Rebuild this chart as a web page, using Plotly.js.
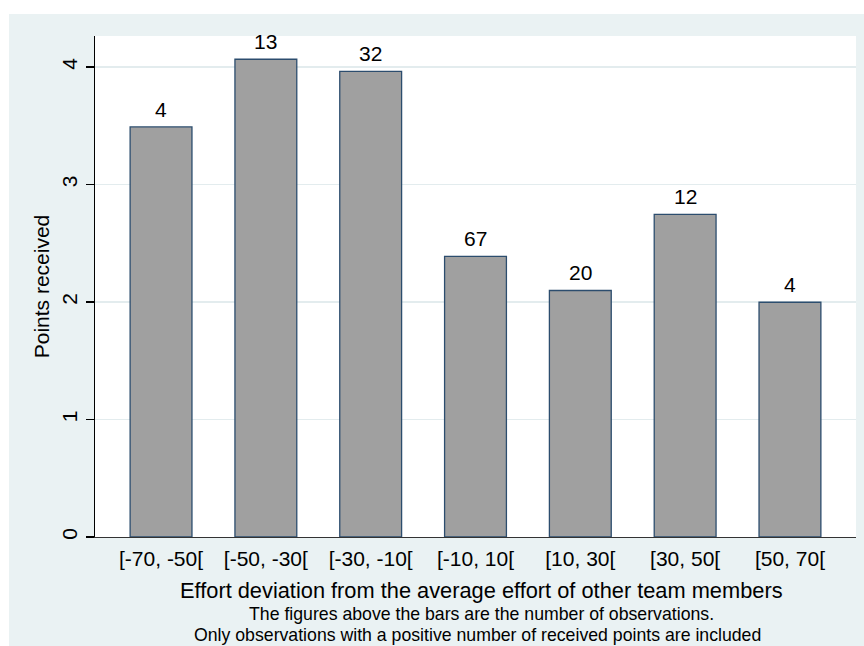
<!DOCTYPE html>
<html>
<head>
<meta charset="utf-8">
<script src="https://cdn.plot.ly/plotly-3.0.1.min.js"></script>
<style>html,body{margin:0;padding:0;background:#fff;}#chart{width:864px;height:646px;}</style>
</head>
<body>
<div id="chart"></div>
<script>
const categories = ["[-70, -50[", "[-50, -30[", "[-30, -10[", "[-10, 10[", "[10, 30[", "[30, 50[", "[50, 70["];
const pointsReceived = [3.49, 4.066, 3.963, 2.388, 2.098, 2.746, 1.998];
const observations = [4, 13, 32, 67, 20, 12, 4];
const yTicks = [0, 1, 2, 3, 4];

const FONT = "Liberation Sans, Arial, sans-serif";

const trace = {
  type: "bar",
  x: categories,
  y: pointsReceived,
  width: 0.59,
  marker: {color: "#A0A0A0", line: {color: "#2C4D6E", width: 1.3}},
  hoverinfo: "skip"
};

const countAnnotations = categories.map((c, i) => ({
  x: c, y: pointsReceived[i], xref: "x", yref: "y",
  text: String(observations[i]), showarrow: false,
  yanchor: "bottom", yshift: 4,
  font: {family: FONT, size: 21, color: "#000"}
}));

const textAnnotations = [
  {text: "Effort deviation from the average effort of other team members", x: 0.5085, y: -0.1058, size: 21.8},
  {text: "The figures above the bars are the number of observations.", x: 0.508, y: -0.1537, size: 17.7},
  {text: "Only observations with a positive number of received points are included", x: 0.503, y: -0.1966, size: 17.7}
].map(a => ({xref: "paper", yref: "paper", showarrow: false, xanchor: "center", yanchor: "middle",
  x: a.x, y: a.y, text: a.text, font: {family: FONT, size: a.size, color: "#000"}}));

const layout = {
  width: 864, height: 646,
  margin: {l: 95, r: 8, t: 36, b: 109, pad: 0},
  paper_bgcolor: "#ffffff",
  plot_bgcolor: "rgba(0,0,0,0)",
  showlegend: false,
  font: {family: FONT, color: "#000"},
  shapes: [
    {type: "rect", xref: "paper", yref: "paper", x0: -0.113, x1: 1.05, y0: -0.3, y1: 1.0439,
     fillcolor: "#EAF2F3", line: {width: 0}, layer: "below"},
    {type: "rect", xref: "paper", yref: "paper", x0: 0, x1: 1, y0: 0, y1: 1,
     fillcolor: "#ffffff", line: {width: 0}, layer: "below"}
  ],
  xaxis: {
    type: "category", range: [-0.63, 6.63],
    showline: true, linecolor: "#333", linewidth: 1.3,
    ticks: "", showgrid: false, zeroline: false,
    ticklabelstandoff: 2,
    tickfont: {family: FONT, size: 21, color: "#000"}
  },
  yaxis: {
    range: [0, 4.264], tickvals: yTicks, ticktext: yTicks.map(String),
    tickangle: -90,
    showline: true, linecolor: "#000", linewidth: 1.3,
    ticks: "outside", ticklen: 8, tickcolor: "#000", tickwidth: 1.3,
    showgrid: true, gridcolor: "#E3ECEE", gridwidth: 1.3,
    zeroline: false,
    tickfont: {family: FONT, size: 21, color: "#000"},
    title: {text: "Points received", font: {family: FONT, size: 21, color: "#000"}, standoff: 3}
  },
  annotations: countAnnotations.concat(textAnnotations)
};

Plotly.newPlot("chart", [trace], layout, {staticPlot: true, displayModeBar: false});
</script>
</body>
</html>
